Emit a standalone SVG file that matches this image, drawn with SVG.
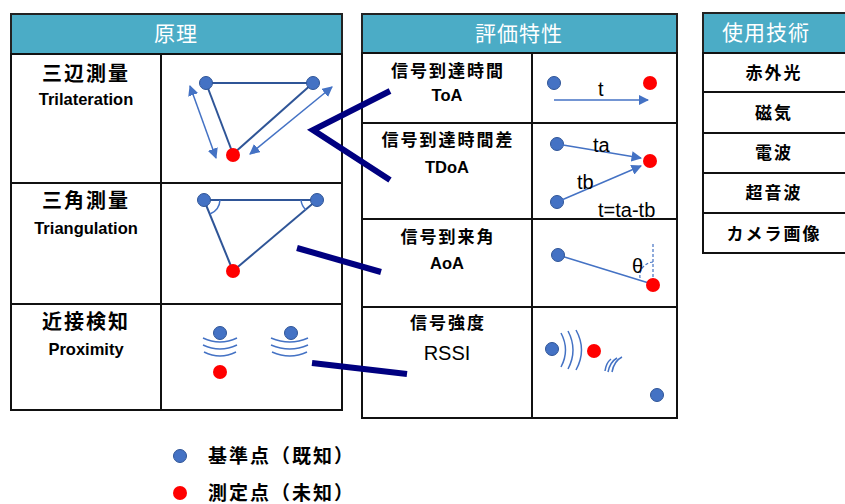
<svg xmlns="http://www.w3.org/2000/svg" width="845" height="504" viewBox="0 0 845 504">
<defs>
<style>
.hdr{fill:#4BACC6;stroke:#222;stroke-width:2}
.cell{fill:#fff;stroke:#111;stroke-width:2}
.ht{font-family:"Noto Sans CJK JP",sans-serif;font-size:21px;fill:#fff;text-anchor:middle;letter-spacing:1px}
.jp{font-family:"Noto Sans CJK JP",sans-serif;font-weight:bold;font-size:17px;fill:#000;text-anchor:middle;letter-spacing:2px}
.jpb{font-family:"Noto Sans CJK JP",sans-serif;font-weight:bold;font-size:20px;fill:#000;text-anchor:middle;letter-spacing:2px}
.en{font-family:"Liberation Sans","Noto Sans",sans-serif;font-weight:bold;font-size:16.5px;fill:#000;text-anchor:middle}
.lbl{font-family:"Liberation Sans","Noto Sans",sans-serif;font-size:20px;fill:#000}
.bp{fill:#4472C4;stroke:#2F5597;stroke-width:1}
.rp{fill:#FF0000}
.ln{stroke:#2F5597;stroke-width:2;fill:none}
.ar{stroke:#4472C4;stroke-width:1.5;fill:none}
.wv{stroke:#4472C4;stroke-width:1.5;fill:none}
.conn{stroke:#000080;stroke-width:6;fill:none}
</style>
<marker id="ah" viewBox="0 0 10 10" refX="9" refY="5" markerWidth="7" markerHeight="7" orient="auto-start-reverse">
<path d="M0,0 L10,5 L0,10 z" fill="#4472C4"/>
</marker>
</defs>

<g id="principle-table">
<rect class="hdr" x="11" y="14" width="331" height="40"/>
<text class="ht" x="176" y="41">原理</text>
<rect class="cell" x="11" y="54" width="150" height="129"/>
<rect class="cell" x="161" y="54" width="181" height="129"/>
<rect class="cell" x="11" y="183" width="150" height="121"/>
<rect class="cell" x="161" y="183" width="181" height="121"/>
<rect class="cell" x="11" y="304" width="150" height="106"/>
<rect class="cell" x="161" y="304" width="181" height="106"/>
</g>

<g id="trilateration">
<text class="jpb" x="86" y="81">三辺測量</text>
<text class="en" x="86" y="105">Trilateration</text>
<line class="ln" x1="206" y1="83" x2="313" y2="83"/>
<line class="ln" x1="206" y1="83" x2="233" y2="154"/>
<line class="ln" x1="313" y1="83" x2="233" y2="154"/>
<line class="ar" x1="190" y1="86" x2="216" y2="158" marker-start="url(#ah)" marker-end="url(#ah)"/>
<line class="ar" x1="332" y1="87" x2="250" y2="154" marker-start="url(#ah)" marker-end="url(#ah)"/>
<circle class="bp" cx="206" cy="83" r="6.5"/>
<circle class="bp" cx="313" cy="83" r="6.5"/>
<circle class="rp" cx="233" cy="155" r="7"/>
</g>

<g id="triangulation">
<text class="jpb" x="86" y="208">三角測量</text>
<text class="en" x="86" y="234">Triangulation</text>
<line class="ln" x1="204" y1="200" x2="317" y2="200"/>
<line class="ln" x1="204" y1="200" x2="233" y2="271"/>
<line class="ln" x1="317" y1="200" x2="233" y2="271"/>
<path class="ar" d="M220,200 A16,16 0 0 1 210,214"/>
<path class="ar" d="M301,200 A16,16 0 0 0 306,210"/>
<circle class="bp" cx="204" cy="200" r="6.5"/>
<circle class="bp" cx="317" cy="200" r="6.5"/>
<circle class="rp" cx="233" cy="271" r="7"/>
</g>

<g id="proximity">
<text class="jpb" x="86" y="329">近接検知</text>
<text class="en" x="86" y="355">Proximity</text>
<circle class="bp" cx="220" cy="333" r="6.5"/>
<circle class="bp" cx="291" cy="333" r="6.5"/>
<path class="wv" d="M203,338 Q220,346 237,338 M203,345 Q220,353 237,345 M204,352 Q220,360 236,352"/>
<path class="wv" d="M271,338 Q290,346 308,338 M271,345 Q290,353 308,345 M272,352 Q290,360 307,352"/>
<circle class="rp" cx="220" cy="372" r="7"/>
</g>

<g id="evaluation-table">
<rect class="hdr" x="362" y="14" width="315" height="39"/>
<text class="ht" x="519" y="41">評価特性</text>
<rect class="cell" x="362" y="53" width="170" height="70"/>
<rect class="cell" x="532" y="53" width="145" height="70"/>
<rect class="cell" x="362" y="123" width="170" height="96"/>
<rect class="cell" x="532" y="123" width="145" height="96"/>
<rect class="cell" x="362" y="219" width="170" height="88"/>
<rect class="cell" x="532" y="219" width="145" height="88"/>
<rect class="cell" x="362" y="307" width="170" height="111"/>
<rect class="cell" x="532" y="307" width="145" height="111"/>
</g>

<g id="toa">
<text class="jp" x="448" y="77">信号到達時間</text>
<text class="en" x="447" y="101">ToA</text>
<circle class="bp" cx="554" cy="83" r="6.5"/>
<circle class="rp" cx="650" cy="83" r="7"/>
<line class="ar" x1="554" y1="100" x2="648" y2="100" marker-end="url(#ah)"/>
<text class="lbl" x="598" y="96">t</text>
</g>

<g id="tdoa">
<text class="jp" x="448" y="146">信号到達時間差</text>
<text class="en" x="447" y="173">TDoA</text>
<circle class="bp" cx="557" cy="144" r="6.5"/>
<circle class="bp" cx="557" cy="202" r="6.5"/>
<circle class="rp" cx="650" cy="161" r="7"/>
<line class="ar" x1="557" y1="144" x2="641" y2="158" marker-end="url(#ah)"/>
<line class="ar" x1="557" y1="202" x2="641" y2="166" marker-end="url(#ah)"/>
<text class="lbl" x="593" y="152">ta</text>
<text class="lbl" x="577" y="189">tb</text>
<text class="lbl" x="598" y="217">t=ta-tb</text>
</g>

<g id="aoa">
<text class="jp" x="448" y="243">信号到来角</text>
<text class="en" x="447" y="269">AoA</text>
<line class="ar" x1="558" y1="255" x2="652" y2="284"/>
<line x1="653" y1="244" x2="653" y2="279" stroke="#4472C4" stroke-width="1.2" stroke-dasharray="3,2"/>
<path d="M640,278 A14,14 0 0 1 653,262" stroke="#4472C4" stroke-width="1.2" stroke-dasharray="3,2" fill="none"/>
<text class="lbl" x="632" y="273">θ</text>
<circle class="bp" cx="558" cy="255" r="6.5"/>
<circle class="rp" cx="653" cy="285" r="7"/>
</g>

<g id="rssi">
<text class="jp" x="448" y="329">信号強度</text>
<text class="en" x="447" y="360" style="font-size:20px;font-weight:normal">RSSI</text>
<circle class="bp" cx="552" cy="349" r="6.5"/>
<path class="wv" d="M561,333 Q570,350 561,367 M568,331 Q578,350 568,369 M576,330 Q587,350 576,370"/>
<circle class="rp" cx="594" cy="351" r="7"/>
<path class="wv" d="M605,371 Q606,363 611,359 M608,372 Q610,362 617,358 M612,372 Q614,361 622,357"/>
<circle class="bp" cx="657" cy="395" r="6.5"/>
</g>

<g id="technology-table">
<rect class="hdr" x="703" y="13" width="144" height="40"/>
<text class="ht" x="766" y="40">使用技術</text>
<rect class="cell" x="703" y="53" width="144" height="39"/>
<rect class="cell" x="703" y="92" width="144" height="41"/>
<rect class="cell" x="703" y="133" width="144" height="40"/>
<rect class="cell" x="703" y="173" width="144" height="40"/>
<rect class="cell" x="703" y="213" width="144" height="40"/>
<text class="jp" x="774" y="79">赤外光</text>
<text class="jp" x="774" y="119">磁気</text>
<text class="jp" x="774" y="159">電波</text>
<text class="jp" x="774" y="199">超音波</text>
<text class="jp" x="774" y="240">カメラ画像</text>
</g>

<g id="connectors">
<polyline class="conn" points="390,91 313,130 390,180"/>
<line class="conn" x1="297" y1="248" x2="381" y2="272"/>
<line class="conn" x1="312" y1="363" x2="407" y2="374"/>
</g>

<g id="legend">
<circle class="bp" cx="180" cy="456" r="6.5"/>
<text class="jpb" x="208" y="463" style="text-anchor:start;font-size:19px">基準点（既知）</text>
<circle class="rp" cx="180" cy="493" r="7"/>
<text class="jpb" x="208" y="500" style="text-anchor:start;font-size:19px">測定点（未知）</text>
</g>
</svg>
